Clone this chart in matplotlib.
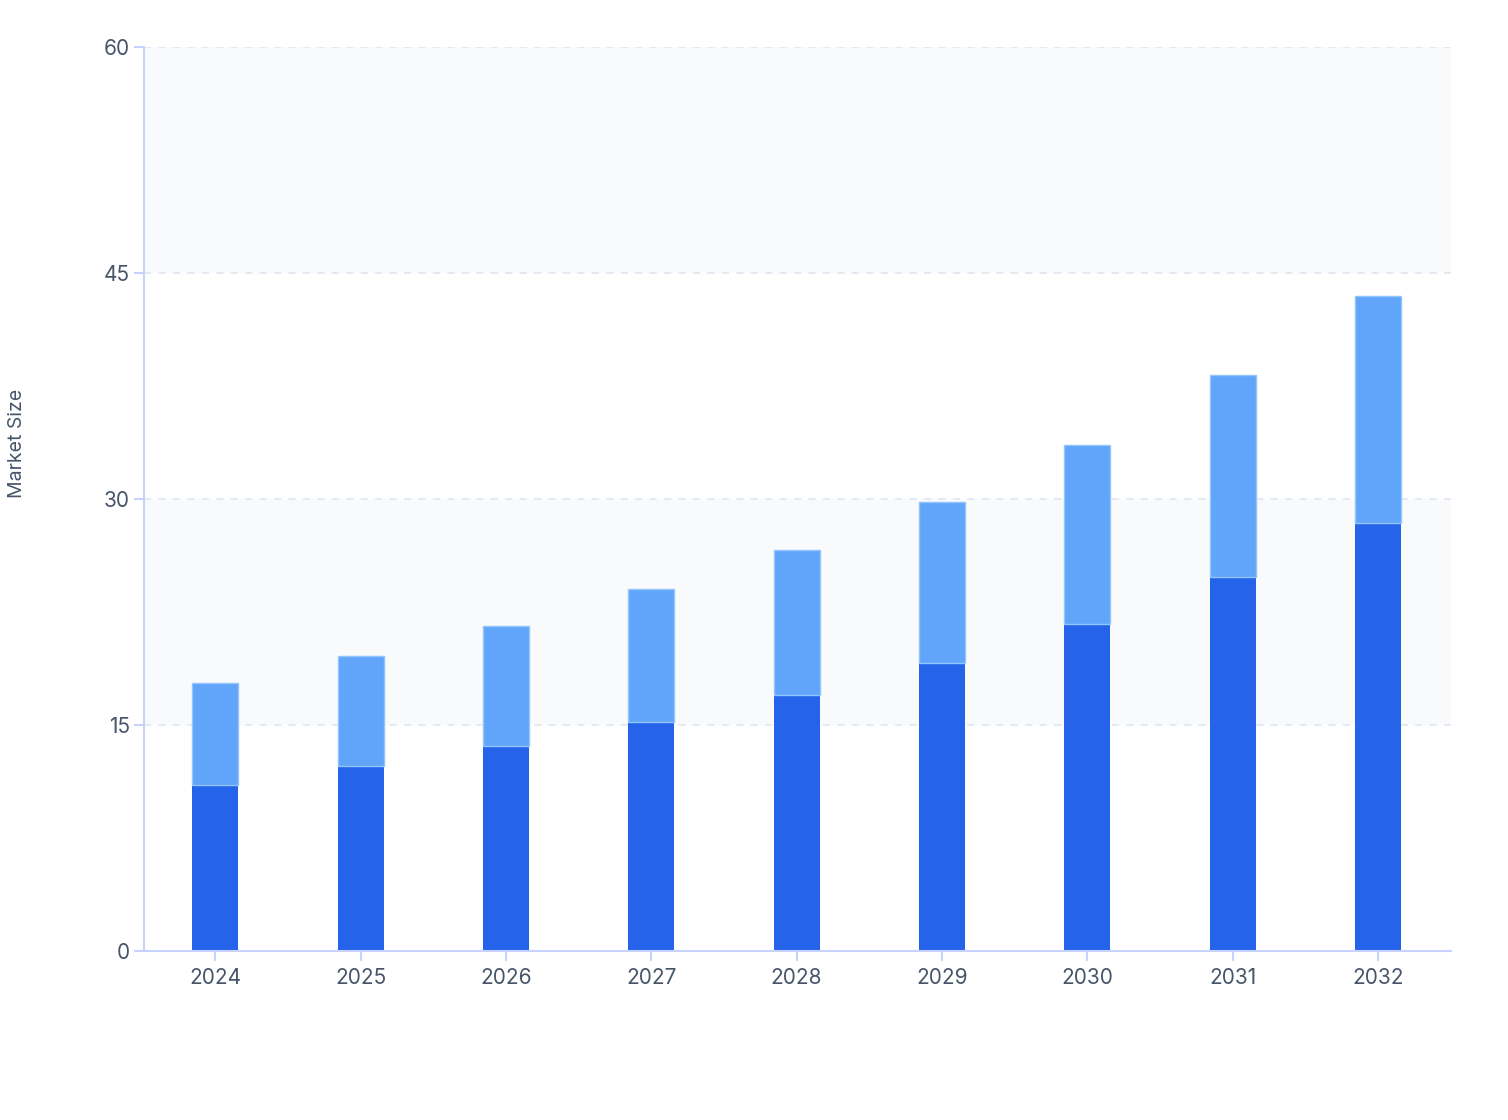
import matplotlib
matplotlib.use("Agg")
import matplotlib.pyplot as plt
import numpy as np

years = ["2024", "2025", "2026", "2027", "2028", "2029", "2030", "2031", "2032"]
base_values = [11.0, 12.3, 13.6, 15.2, 17.0, 19.1, 21.7, 24.8, 28.4]
total_values = [17.8, 19.6, 21.6, 24.0, 26.6, 29.8, 33.6, 38.2, 43.5]
upper_values = [t - b for t, b in zip(total_values, base_values)]
y_ticks = [0, 15, 30, 45, 60]

plt.rcParams['font.family'] = ['Inter', 'DejaVu Sans']

fig = plt.figure(figsize=(15.08, 11.2), dpi=100)
ax = fig.add_axes([0.0955, 0.1509, 0.8670, 0.8071])

x = np.arange(len(years))
ax.set_xlim(-0.49, len(years) - 0.494)
ax.set_ylim(0, 60)

# alternating background bands
for i in range(len(y_ticks) - 1):
    if i % 2 == 1:
        ax.axhspan(y_ticks[i], y_ticks[i + 1], color="#F8FAFC", zorder=0, lw=0)

for t in y_ticks[1:]:
    ax.axhline(t, color="#E2E8F0", lw=1.3, ls=(0, (4, 4)), zorder=1)

w = 0.317
ax.bar(x, base_values, width=w, color="#2563EB", zorder=2, lw=0)
ax.bar(x, upper_values, width=w, bottom=base_values, color="#60A5FA",
       edgecolor="#93C5FD", lw=1.0, zorder=2)

ax.set_xticks(x)
ax.set_xticklabels(years)
ax.set_yticks(y_ticks)

for s in ["top", "right"]:
    ax.spines[s].set_visible(False)
for s in ["left", "bottom"]:
    ax.spines[s].set_color("#C7D2FE")
    ax.spines[s].set_linewidth(1.5)

ax.tick_params(axis="both", colors="#C7D2FE", labelcolor="#475569",
               labelsize=15, length=7, width=1.5)
ax.tick_params(axis="x", pad=5)
ax.tick_params(axis="y", pad=3)

fig.text(0.011, 0.604, "Market Size", rotation=90, va="center", ha="center",
         fontsize=14, color="#475569")

fig.savefig("out.png", dpi=100, facecolor="white")
